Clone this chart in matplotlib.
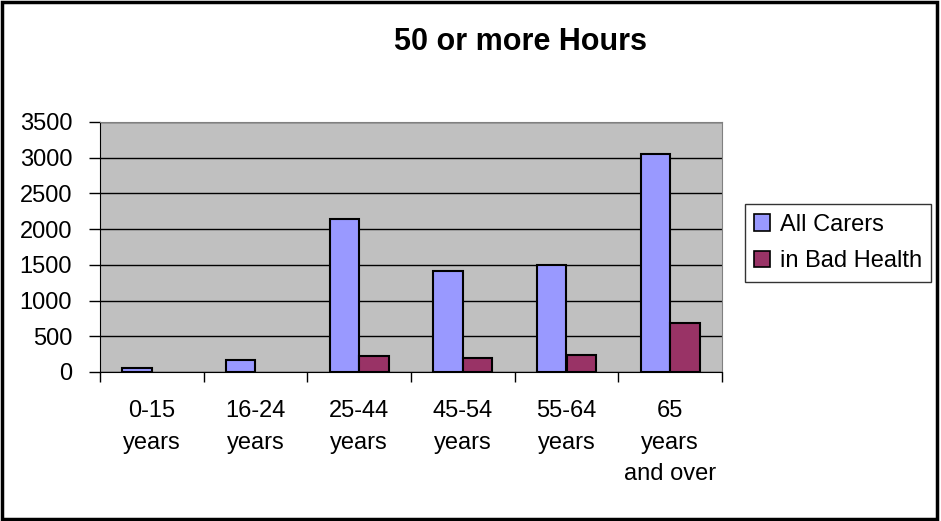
import matplotlib.pyplot as plt
import numpy as np
from matplotlib.patches import Rectangle, Patch

plt.rcParams['font.family'] = ['Liberation Sans', 'DejaVu Sans']

age_groups = ['0-15\nyears', '16-24\nyears', '25-44\nyears', '45-54\nyears',
              '55-64\nyears', '65\nyears\nand over']
all_carers = [60, 165, 2140, 1420, 1505, 3050]
bad_health = [0, 0, 225, 195, 245, 690]
y_ticks = [0, 500, 1000, 1500, 2000, 2500, 3000, 3500]

c_all = '#9999FF'
c_bad = '#993366'

fig = plt.figure(figsize=(9.41, 5.21), dpi=100)
ax = fig.add_axes([100 / 941, 149 / 521, 622 / 941, 250 / 521])

x = np.arange(len(age_groups))
w = 1 / 3.5
b1 = ax.bar(x - w / 2, all_carers, w, color=c_all, edgecolor='black', linewidth=1.5,
            zorder=3)
b2 = ax.bar(x + w / 2, bad_health, w, color=c_bad, edgecolor='black', linewidth=1.5,
            zorder=3)
# empty groups show no bar at all
for rect in list(b1) + list(b2):
    if rect.get_height() == 0:
        rect.set_visible(False)

ax.set_facecolor('#C0C0C0')
ax.set_xlim(-0.5, len(age_groups) - 0.5)
ax.set_ylim(0, 3500)
ax.set_yticks(y_ticks)
ax.tick_params(axis='y', labelsize=17, length=8, width=1, direction='out', pad=12)
ax.yaxis.grid(True, color='black', linewidth=1, zorder=1)
ax.set_axisbelow(True)

# category labels sit between the boundary ticks
ax.set_xticks(np.arange(-0.5, len(age_groups)), minor=False)
ax.set_xticklabels([])
ax.set_xticks(x, minor=True)
ax.set_xticklabels(age_groups, minor=True, fontsize=17, linespacing=1.58, va='top')
ax.tick_params(axis='x', which='major', length=7, width=1)
ax.tick_params(axis='x', which='minor', length=0, pad=20)

for side in ['top', 'right']:
    ax.spines[side].set_color('#808080')
ax.spines['left'].set_color('black')
ax.spines['bottom'].set_color('black')

fig.text(521 / 941, 1 - 42 / 521, '50 or more Hours', ha='center', va='center',
         fontsize=22, fontweight='bold')

handles = [Patch(facecolor=c_all, edgecolor='black', linewidth=1.2, label='All Carers'),
           Patch(facecolor=c_bad, edgecolor='black', linewidth=1.2, label='in Bad Health')]
leg = fig.legend(handles=handles, loc='center', bbox_to_anchor=(838 / 941, 1 - 243 / 521),
                 fontsize=17, frameon=True, fancybox=False, edgecolor='black',
                 handlelength=0.7, handleheight=0.7, handletextpad=0.4,
                 labelspacing=0.6, borderpad=0.4)
leg.get_frame().set_linewidth(1)

# outer chart border
fig.patches.append(Rectangle((0.002, 0.004), 0.994, 0.992, transform=fig.transFigure,
                             fill=False, edgecolor='black', linewidth=2.5))

fig.savefig('out.png', dpi=100)
